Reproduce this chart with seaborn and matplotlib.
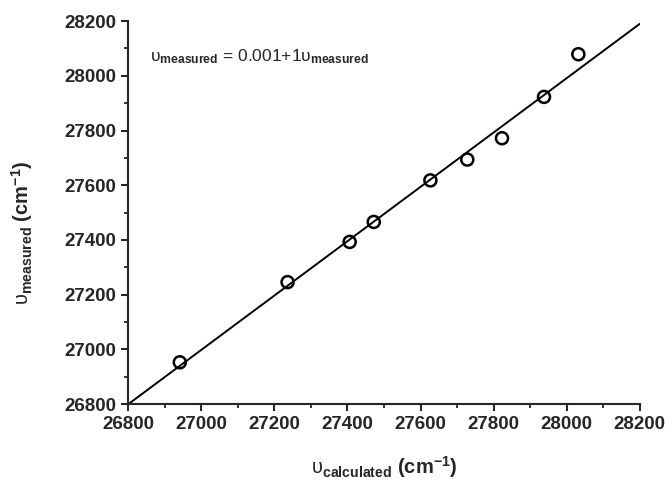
import matplotlib
matplotlib.use("Agg")
import matplotlib.pyplot as plt
import seaborn as sns
import pandas as pd
from matplotlib.ticker import MultipleLocator

# data
calculated = [26941, 27236, 27406, 27472, 27627, 27728, 27823, 27938, 28032]
measured = [26953, 27246, 27393, 27466, 27618, 27694, 27772, 27923, 28079]
fit_x = [26800, 28200]
fit_y = [26800, 28190]
ticks = [26800, 27000, 27200, 27400, 27600, 27800, 28000, 28200]

sns.set_style("ticks")
plt.rcParams['font.family'] = ['Liberation Sans', 'DejaVu Sans']
plt.rcParams['mathtext.fontset'] = 'custom'
plt.rcParams['mathtext.rm'] = 'Liberation Sans'
plt.rcParams['mathtext.it'] = 'Liberation Sans:italic'
plt.rcParams['mathtext.bf'] = 'Liberation Sans:bold'

df = pd.DataFrame({'calc': calculated, 'meas': measured})
fit = pd.DataFrame({'x': fit_x, 'y': fit_y})

fig = plt.figure(figsize=(6.7, 4.8), dpi=100)
ax = fig.add_axes([0.1915, 0.158, 0.7633, 0.798])

sns.lineplot(data=fit, x='x', y='y', color='black', linewidth=1.4, ax=ax)
sns.scatterplot(data=df, x='calc', y='meas', ax=ax, s=75, marker='o',
                facecolor='none', edgecolor='black', linewidth=1.8, zorder=3)

ax.set_xlim(26800, 28200)
ax.set_ylim(26800, 28200)
ax.set_xticks(ticks)
ax.set_yticks(ticks)
ax.xaxis.set_minor_locator(MultipleLocator(100))
ax.yaxis.set_minor_locator(MultipleLocator(100))
ax.tick_params(which='major', direction='out', length=5, width=1.5, labelsize=13.5)
ax.tick_params(which='minor', direction='out', length=3, width=1.3)
for lab in ax.get_xticklabels() + ax.get_yticklabels():
    lab.set_fontweight('bold')
for s in ['left', 'bottom']:
    ax.spines[s].set_linewidth(1.5)
sns.despine(ax=ax)

ax.set_xlabel('$\\mathrm{υ}_{\\mathbf{calculated}}$ (cm$^{\\mathbf{-1}}$)',
              fontsize=14.5, fontweight='bold', labelpad=15)
ax.set_ylabel('$\\mathrm{υ}_{\\mathbf{measured}}$ (cm$^{\\mathbf{-1}}$)',
              fontsize=14.5, fontweight='bold')
ax.yaxis.set_label_coords(-0.182, 0.447)
ax.text(0.042, 0.895, '$\\mathrm{υ}_{\\mathbf{measured}}$ = 0.001+1$\\mathrm{υ}_{\\mathbf{measured}}$',
        transform=ax.transAxes, fontsize=12.5)

fig.savefig('out.png', dpi=100)
